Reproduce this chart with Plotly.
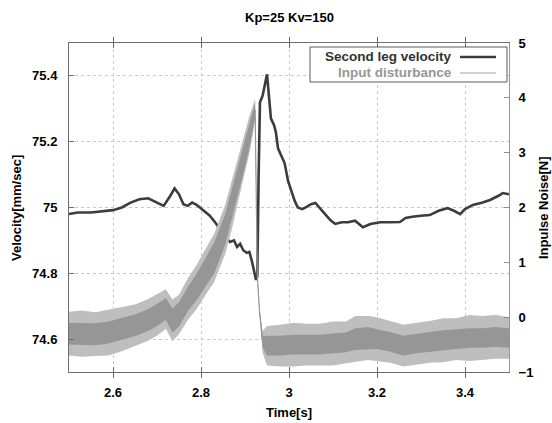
import plotly.graph_objects as go

# ---------------- data ----------------
t_vel = [2.50, 2.52, 2.55, 2.58, 2.60, 2.62, 2.64, 2.66, 2.68, 2.70, 2.715, 2.73, 2.74, 2.75,
         2.76, 2.77, 2.78, 2.79, 2.805, 2.82, 2.832, 2.85, 2.866, 2.875, 2.882, 2.889, 2.896,
         2.904, 2.91, 2.916, 2.925, 2.928, 2.931, 2.934, 2.940, 2.945, 2.950, 2.955, 2.959,
         2.966, 2.970, 2.975, 2.982, 2.990, 2.998, 3.006, 3.013, 3.020, 3.030, 3.040, 3.050,
         3.060, 3.070, 3.082, 3.095, 3.105, 3.120, 3.134, 3.150, 3.168, 3.185, 3.207, 3.230,
         3.252, 3.265, 3.280, 3.300, 3.320, 3.340, 3.360, 3.375, 3.389, 3.400, 3.418, 3.440,
         3.457, 3.475, 3.486, 3.500]
velocity = [74.980, 74.985, 74.985, 74.990, 74.992, 75.000, 75.015, 75.025, 75.028, 75.015,
            75.005, 75.035, 75.058, 75.040, 75.010, 75.005, 75.015, 75.008, 74.990, 74.975,
            74.955, 74.920, 74.895, 74.900, 74.880, 74.890, 74.870, 74.862, 74.865, 74.835,
            74.780, 74.790, 75.100, 75.320, 75.340, 75.370, 75.405, 75.330, 75.270, 75.250,
            75.230, 75.180, 75.160, 75.135, 75.080, 75.045, 75.020, 75.000, 74.995, 75.002,
            75.010, 75.014, 75.000, 74.980, 74.960, 74.950, 74.955, 74.955, 74.960, 74.940,
            74.950, 74.955, 74.955, 74.956, 74.968, 74.972, 74.975, 74.977, 74.990, 74.998,
            74.990, 74.980, 74.995, 75.008, 75.015, 75.023, 75.035, 75.044, 75.040]

t_dist = [2.50, 2.53, 2.56, 2.59, 2.62, 2.65, 2.68, 2.70, 2.72, 2.735, 2.75, 2.77, 2.79, 2.81,
          2.83, 2.855, 2.87, 2.885, 2.90, 2.91, 2.923, 2.928, 2.933, 2.94, 2.95, 2.98, 3.01,
          3.04, 3.07, 3.10, 3.13, 3.15, 3.18, 3.20, 3.23, 3.26, 3.29, 3.32, 3.35, 3.38, 3.41,
          3.44, 3.47, 3.50]
dist_mid = [-0.30, -0.30, -0.31, -0.28, -0.22, -0.15, -0.05, 0.04, 0.15, -0.06, 0.05, 0.33,
            0.55, 0.82, 1.08, 1.60, 2.05, 2.55, 3.00, 3.33, 3.78, 0.75, 0.10, -0.45, -0.52,
            -0.52, -0.50, -0.50, -0.50, -0.48, -0.46, -0.40, -0.38, -0.40, -0.45, -0.52, -0.48,
            -0.45, -0.42, -0.40, -0.38, -0.38, -0.36, -0.38]
dist_dense = [0.20, 0.20, 0.20, 0.20, 0.20, 0.20, 0.20, 0.20, 0.20, 0.22, 0.22, 0.22, 0.24,
              0.26, 0.28, 0.28, 0.28, 0.28, 0.26, 0.24, 0.14, 0.03, 0.03, 0.10, 0.18, 0.18,
              0.18, 0.18, 0.18, 0.18, 0.18, 0.20, 0.20, 0.18, 0.18, 0.18, 0.18, 0.18, 0.18,
              0.18, 0.18, 0.18, 0.18, 0.18]
dist_spike = [0.40, 0.42, 0.40, 0.42, 0.40, 0.38, 0.38, 0.38, 0.36, 0.38, 0.36, 0.38, 0.40,
              0.42, 0.44, 0.45, 0.45, 0.42, 0.38, 0.34, 0.20, 0.05, 0.05, 0.20, 0.36, 0.38,
              0.40, 0.38, 0.38, 0.40, 0.38, 0.42, 0.40, 0.40, 0.38, 0.38, 0.38, 0.38, 0.40,
              0.38, 0.42, 0.40, 0.40, 0.38]

x_ticks = [2.6, 2.8, 3.0, 3.2, 3.4]
x_ticktext = ["2.6", "2.8", "3", "3.2", "3.4"]
y_ticks = [74.6, 74.8, 75.0, 75.2, 75.4]
y_ticktext = ["74.6", "74.8", "75", "75.2", "75.4"]
y2_ticks = [-1, 0, 1, 2, 3, 4, 5]

title_text = "Kp=25 Kv=150"
x_title = "Time[s]"
y_title = "Velocity[mm/sec]"
y2_title = "Inpulse Noise[N]"
legend_names = ["Second leg velocity", "Input disturbance"]

# ---------------- figure ----------------
W, H = 552, 423
L, R, T, B = 69, 43, 43, 51
FONT = "Liberation Sans, Arial, Helvetica, sans-serif"
VEL_COLOR = "rgb(60,60,60)"
DENSE_COLOR = "rgb(150,150,150)"

spike_lo = [m - s for m, s in zip(dist_mid, dist_spike)]
spike_hi = [m + s for m, s in zip(dist_mid, dist_spike)]
dense_lo = [m - s for m, s in zip(dist_mid, dist_dense)]
dense_hi = [m + s for m, s in zip(dist_mid, dist_dense)]

fig = go.Figure()
fig.add_trace(go.Scatter(x=t_vel, y=velocity, mode="lines", name=legend_names[0],
                         line=dict(color=VEL_COLOR, width=2.6), showlegend=False))
fig.add_trace(go.Scatter(x=t_dist, y=spike_lo, mode="lines", yaxis="y2",
                         line=dict(width=0, color="rgba(0,0,0,0)"), showlegend=False,
                         hoverinfo="skip"))
fig.add_trace(go.Scatter(x=t_dist, y=spike_hi, mode="lines", yaxis="y2", fill="tonexty",
                         fillcolor="rgb(190,190,190)",
                         line=dict(width=0, color="rgba(0,0,0,0)"), showlegend=False,
                         hoverinfo="skip"))
fig.add_trace(go.Scatter(x=t_dist, y=dense_lo, mode="lines", yaxis="y2",
                         line=dict(width=0, color="rgba(0,0,0,0)"), showlegend=False,
                         hoverinfo="skip"))
fig.add_trace(go.Scatter(x=t_dist, y=dense_hi, mode="lines", yaxis="y2", fill="tonexty",
                         fillcolor=DENSE_COLOR,
                         line=dict(width=0, color="rgba(0,0,0,0)"), showlegend=False,
                         hoverinfo="skip"))
fig.add_trace(go.Scatter(x=t_dist, y=dist_mid, mode="lines", yaxis="y2",
                         name=legend_names[1],
                         line=dict(color=DENSE_COLOR, width=1.2), showlegend=False))

axis_font = dict(family=FONT, size=13, color="black", weight="bold")
fig.update_layout(
    width=W, height=H,
    margin=dict(l=L, r=R, t=T, b=B, pad=0),
    paper_bgcolor="white", plot_bgcolor="white",
    showlegend=False,
    xaxis=dict(range=[2.5, 3.5], tickvals=x_ticks, ticktext=x_ticktext,
               ticks="inside", ticklen=5, tickcolor="rgb(110,110,110)",
               showline=True, linecolor="rgb(110,110,110)", linewidth=1,
               mirror="allticks", showgrid=True, gridcolor="rgb(200,200,200)",
               griddash="dot", gridwidth=1, zeroline=False,
               tickfont=axis_font, ticklabelstandoff=8),
    yaxis=dict(range=[74.5, 75.5], tickvals=y_ticks, ticktext=y_ticktext,
               ticks="inside", ticklen=5, tickcolor="rgb(110,110,110)",
               showline=True, linecolor="rgb(110,110,110)", linewidth=1,
               showgrid=True, gridcolor="rgb(200,200,200)", griddash="dot",
               gridwidth=1, zeroline=False, tickfont=axis_font, ticklabelstandoff=8),
    yaxis2=dict(range=[-1, 5], tickvals=y2_ticks, overlaying="y", side="right",
                ticks="inside", ticklen=5, tickcolor="rgb(140,140,140)",
                showline=True, linecolor="rgb(150,150,150)", linewidth=1,
                showgrid=False, zeroline=False, tickfont=axis_font,
                ticklabelstandoff=6),
)

def px_x(px):
    return (px - L) / (W - L - R)

def px_y(py):
    return (H - B - py) / (H - T - B)

ann_font = dict(family=FONT, size=13, color="black", weight="bold")
fig.add_annotation(text=title_text, xref="paper", yref="paper", x=px_x(289), y=px_y(18),
                   showarrow=False, font=ann_font, xanchor="center", yanchor="middle")
fig.add_annotation(text=x_title, xref="paper", yref="paper", x=px_x(289), y=px_y(412),
                   showarrow=False, font=ann_font, xanchor="center", yanchor="middle")
fig.add_annotation(text=y_title, xref="paper", yref="paper", x=px_x(16), y=px_y(208),
                   showarrow=False, font=ann_font, textangle=-90,
                   xanchor="center", yanchor="middle")
fig.add_annotation(text=y2_title, xref="paper", yref="paper", x=px_x(543), y=px_y(208),
                   showarrow=False, font=ann_font, textangle=-90,
                   xanchor="center", yanchor="middle")

# legend box (MATLAB style: text left, line sample right)
fig.add_shape(type="rect", xref="paper", yref="paper",
              x0=px_x(310), x1=px_x(507), y0=px_y(82), y1=px_y(47),
              line=dict(color="rgb(90,90,90)", width=1), fillcolor="white", layer="above")
fig.add_annotation(text=legend_names[0], xref="paper", yref="paper", x=px_x(454), y=px_y(57),
                   showarrow=False, xanchor="right", yanchor="middle",
                   font=dict(family=FONT, size=13.5, color="rgb(50,50,50)", weight="bold"))
fig.add_annotation(text=legend_names[1], xref="paper", yref="paper", x=px_x(454), y=px_y(73),
                   showarrow=False, xanchor="right", yanchor="middle",
                   font=dict(family=FONT, size=13.5, color="rgb(150,150,150)", weight="bold"))
fig.add_shape(type="line", xref="paper", yref="paper", x0=px_x(460), x1=px_x(496),
              y0=px_y(57), y1=px_y(57), line=dict(color=VEL_COLOR, width=2.6), layer="above")
fig.add_shape(type="line", xref="paper", yref="paper", x0=px_x(460), x1=px_x(496),
              y0=px_y(73), y1=px_y(73), line=dict(color="rgb(160,160,160)", width=1),
              layer="above")

fig.write_html("out.html")
